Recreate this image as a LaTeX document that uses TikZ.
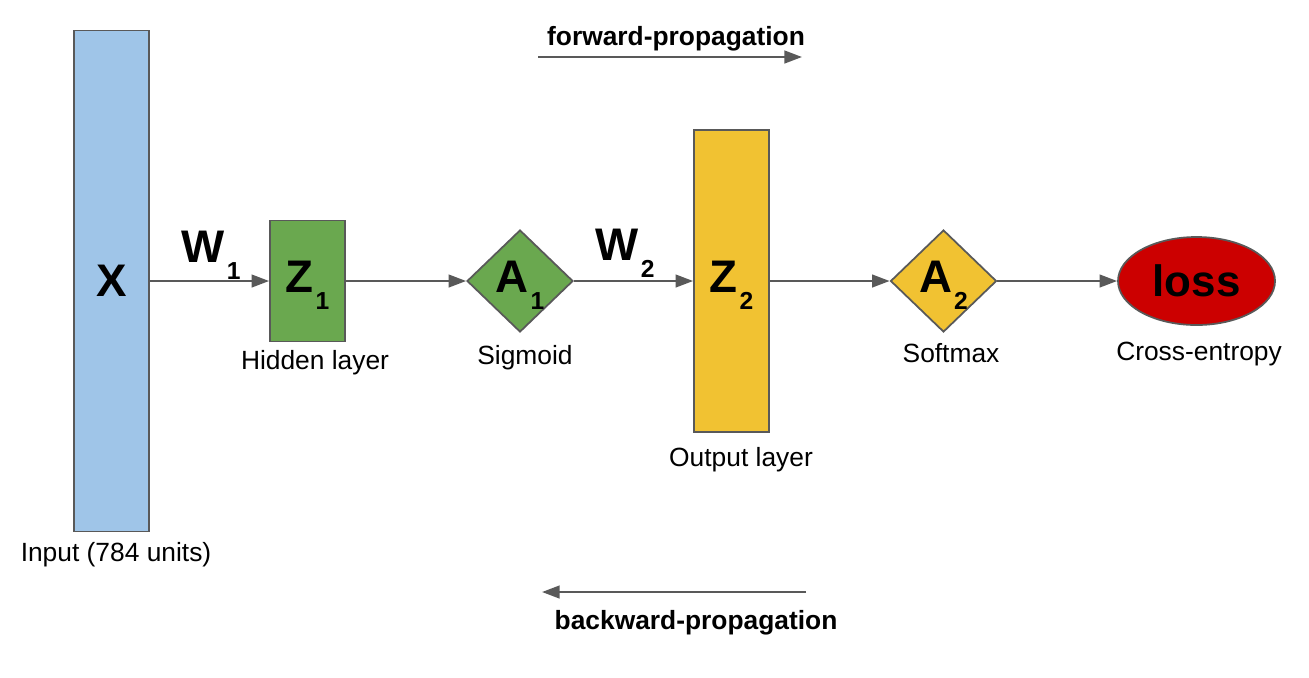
\documentclass[tikz,border=0pt]{standalone}
\usepackage{fontspec}
\setmainfont{Liberation Sans}
\usetikzlibrary{shapes,arrows.meta,positioning}

\definecolor{inputblue}{HTML}{9FC5E8}
\definecolor{hiddengreen}{HTML}{6AA84F}
\definecolor{outputyellow}{HTML}{F1C232}
\definecolor{lossred}{HTML}{CC0000}
\definecolor{edgegray}{HTML}{595959}

\newcommand{\symsub}[2]{#1\hspace{0.6pt}\raisebox{-5pt}[0pt][2.5pt]{\fontsize{7}{8}\selectfont #2}}

\begin{document}
\begin{tikzpicture}[
    layer node/.style={rectangle,draw=edgegray,line width=0.5pt,minimum width=0.75cm,inner sep=0pt,font=\fontsize{13}{15}\selectfont\bfseries},
    act node/.style={diamond,draw=edgegray,line width=0.5pt,minimum width=1.06cm,minimum height=1.02cm,inner sep=0pt,font=\fontsize{13}{15}\selectfont\bfseries},
    loss node/.style={ellipse,draw=edgegray,line width=0.5pt,fill=lossred,minimum width=1.57cm,minimum height=0.88cm,inner sep=0pt,font=\fontsize{12.5}{15}\selectfont\bfseries},
    caption node/.style={anchor=base,inner sep=0pt,font=\fontsize{7.5}{9}\selectfont},
    weight node/.style={anchor=base,inner sep=0pt,font=\fontsize{13}{15}\selectfont\bfseries},
    flow/.style={-{Triangle[length=5pt,width=3.6pt]},draw=edgegray,line width=0.65pt}
]
\useasboundingbox (0,0) rectangle (13.09,6.77);

% Input
\node[layer node, fill=inputblue, minimum height=5.01cm] (x) at (1.115,3.96) {X};
\node[caption node] (xcap) at (1.16,1.16) {Input (784 units)};

% Hidden layer
\node[layer node, fill=hiddengreen, minimum height=1.21cm] (z1) at (3.075,3.96) {\symsub{Z}{1}};
\node[caption node] (z1cap) at (3.15,3.08) {Hidden layer};
\node[act node, fill=hiddengreen] (a1) at (5.20,3.96) {\symsub{A}{1}};
\node[caption node] (a1cap) at (5.25,3.13) {Sigmoid};

% Output layer
\node[layer node, fill=outputyellow, minimum height=3.02cm] (z2) at (7.315,3.96) {\symsub{Z}{2}};
\node[caption node] (z2cap) at (7.41,2.11) {Output layer};
\node[act node, fill=outputyellow] (a2) at (9.435,3.96) {\symsub{A}{2}};
\node[caption node] (a2cap) at (9.51,3.15) {Softmax};

% Loss
\node[loss node] (loss) at (11.965,3.96) {loss};
\node[caption node] (losscap) at (11.99,3.17) {Cross-entropy};

% Weights
\node[weight node] (w1) at (2.11,4.15) {\symsub{W}{1}};
\node[weight node] (w2) at (6.25,4.17) {\symsub{W}{2}};

% Arrows
\draw[flow] (x) -- (z1);
\draw[flow] (z1) -- (a1);
\draw[flow] (a1) -- (z2);
\draw[flow] (z2) -- (a2);
\draw[flow] (a2) -- (loss);

% Propagation directions
\coordinate (fwdstart) at (5.38,6.20);
\coordinate (fwdend) at (8.02,6.20);
\coordinate (bwdstart) at (8.06,0.85);
\coordinate (bwdend) at (5.42,0.85);
\node[caption node, font=\fontsize{7.5}{9}\selectfont\bfseries] (fwd) at (6.76,6.32) {forward-propagation};
\node[caption node, font=\fontsize{7.5}{9}\selectfont\bfseries] (bwd) at (6.96,0.48) {backward-propagation};
\draw[flow] (fwdstart) -- (fwdend);
\draw[flow] (bwdstart) -- (bwdend);

\end{tikzpicture}
\end{document}
